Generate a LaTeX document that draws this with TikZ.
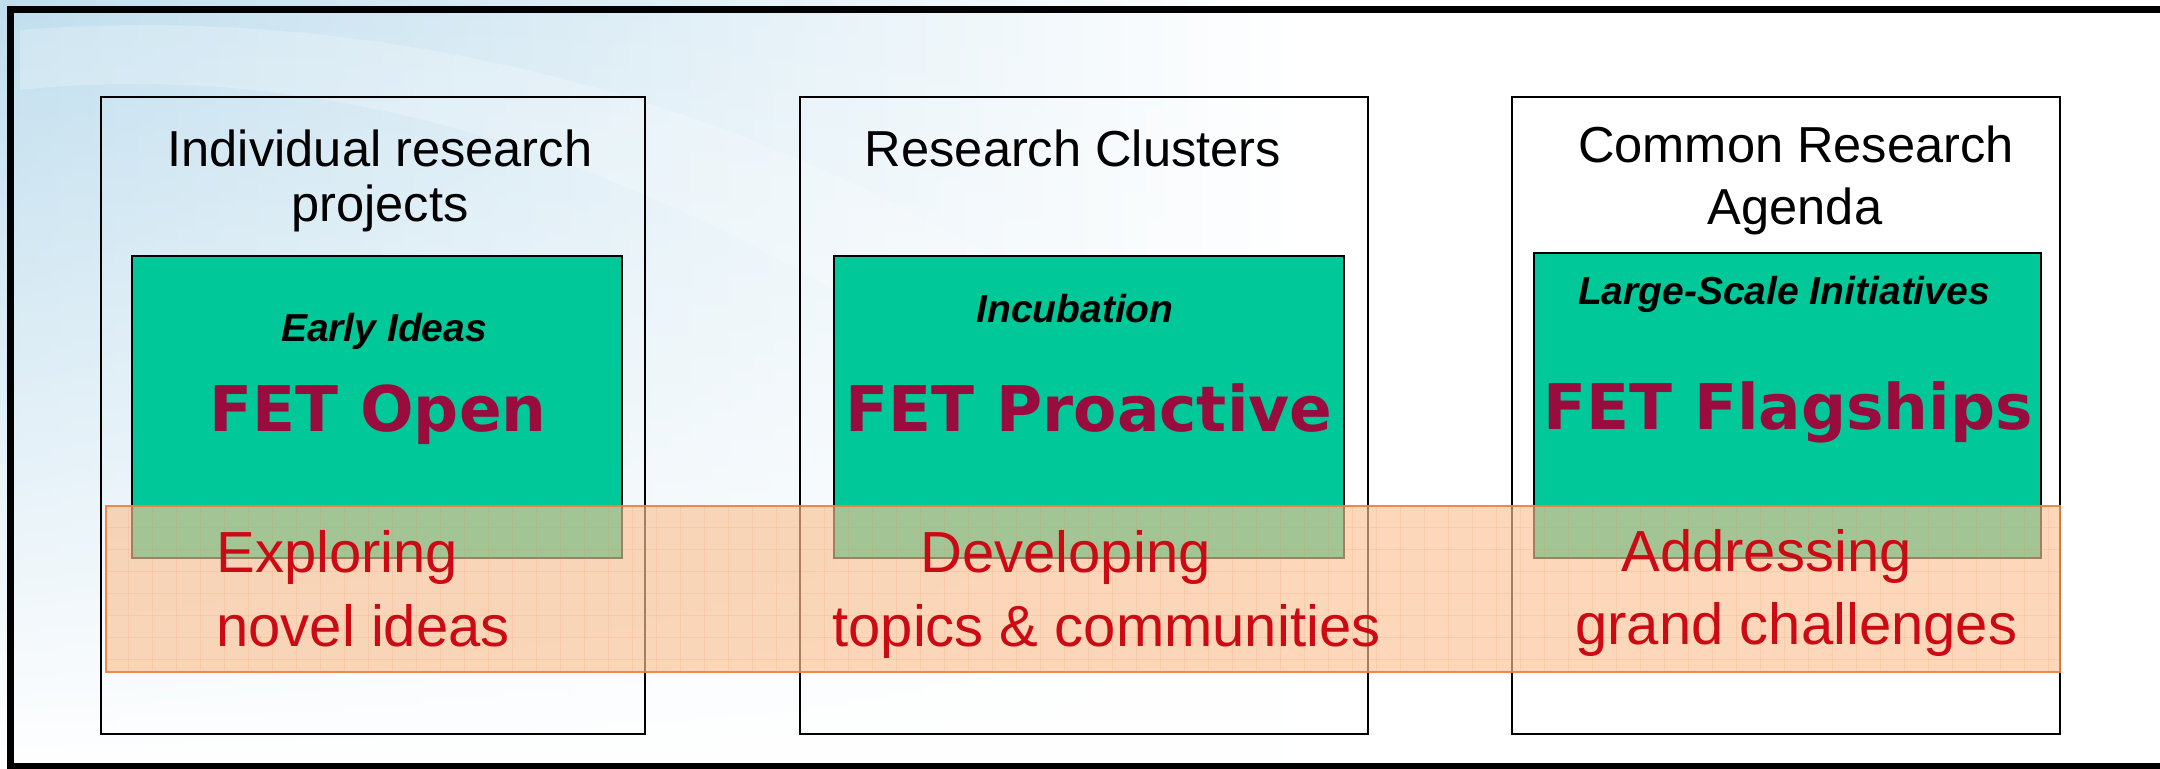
\documentclass[tikz,border=0pt]{standalone}
\usepackage{fontspec}
\setmainfont{Liberation Sans}
\newfontfamily\fetfont{DejaVu Sans}
\usetikzlibrary{fadings}
\definecolor{fetgreen}{RGB}{0,200,152}
\definecolor{fetmaroon}{RGB}{155,12,62}
\definecolor{bandfill}{RGB}{251,194,148}
\definecolor{bandline}{RGB}{238,128,56}
\definecolor{bandtext}{RGB}{204,10,20}
\definecolor{bgblue}{RGB}{192,222,238}
\tikzfading[name=fadedown, top color=transparent!0, bottom color=transparent!100]
\begin{document}
\begin{tikzpicture}[x=0.5pt,y=-0.5pt,
  outerbox/.style={draw=black, line width=1.3pt},
  greenbox/.style={draw=black, line width=1pt, fill=fetgreen},
  bandbox/.style={draw=bandline, line width=1pt, fill=bandfill, fill opacity=0.65, draw opacity=0.9},
  titletxt/.style={anchor=base, inner sep=0pt, text=black, font=\fontsize{25.3pt}{30pt}\selectfont},
  subtxt/.style={anchor=base, inner sep=0pt, text=black, font=\fontsize{19.5pt}{23pt}\selectfont\bfseries\itshape},
  fettxt/.style={anchor=base, inner sep=0pt, text=fetmaroon, font=\fetfont\fontsize{31.5pt}{36pt}\selectfont\bfseries},
  bandtxt/.style={anchor=base west, inner sep=0pt, text=bandtext, font=\fontsize{29pt}{34pt}\selectfont},
  gridline/.style={draw=bandline, draw opacity=0.13, line width=0.5pt}]
\useasboundingbox (0,0) rectangle (2160,769);
% background
\fill[white] (0,0) rectangle (2160,769);
\shade[left color=bgblue, right color=white, path fading=fadedown] (0,0) rectangle (1300,769);
\fill[white, opacity=0.22] (20,90) .. controls (300,60) and (600,140) .. (900,330)
  -- (1100,330) .. controls (800,110) and (400,0) .. (20,30) -- cycle;
% outer frame
\draw[line width=3.5pt, line join=miter] (2170,10) -- (10,10) -- (10,767) -- (2170,767);
% columns
\draw[outerbox] (101,97) rectangle (645,734);
\draw[outerbox] (800,97) rectangle (1368,734);
\draw[outerbox] (1512,97) rectangle (2060,734);
\draw[greenbox] (132,256) rectangle (622,558);
\draw[greenbox] (834,256) rectangle (1344,558);
\draw[greenbox] (1534,253) rectangle (2041,558);
% titles
\node[titletxt] (t1a) at (380,167) {Individual research};
\node[titletxt] (t1b) at (380,222) {projects};
\node[titletxt] (t2a) at (1073,167) {Research Clusters};
\node[titletxt] (t3a) at (1796,163) {Common Research};
\node[titletxt] (t3b) at (1795,225) {Agenda};
% subtitles
\node[subtxt] (s1) at (384,342) {Early Ideas};
\node[subtxt] (s2) at (1075,323) {Incubation};
\node[subtxt] (s3) at (1784,305) {Large-Scale Initiatives};
% FET names
\node[fettxt] (f1) at (378,432) {FET Open};
\node[fettxt] (f2) at (1089,432) {FET Proactive};
\node[fettxt] (f3) at (1788,430) {FET Flagships};
% band
\path[bandbox] (106,506) rectangle (2060,672);
\foreach \gx in {128,152,...,2050} \draw[gridline] (\gx,507) -- (\gx,671);
\foreach \gy in {528,550,...,670} \draw[gridline] (107,\gy) -- (2059,\gy);
\node[bandtxt] (b1a) at (216,573) {Exploring};
\node[bandtxt] (b1b) at (216,647) {novel ideas};
\node[bandtxt] (b2a) at (920,573) {Developing};
\node[bandtxt] (b2b) at (832,647) {topics \& communities};
\node[bandtxt] (b3a) at (1621,572) {Addressing};
\node[bandtxt] (b3b) at (1575,645) {grand challenges};
\end{tikzpicture}
\end{document}
